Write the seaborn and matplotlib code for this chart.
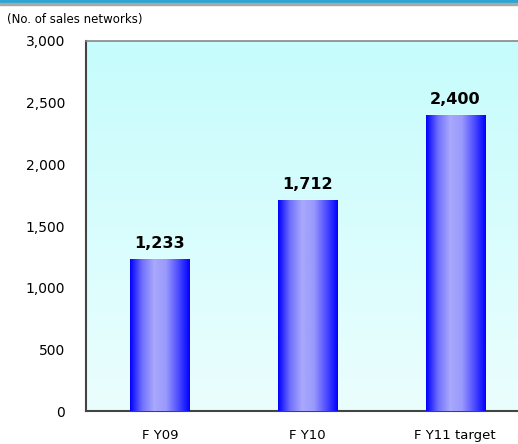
import numpy as np
import pandas as pd
import seaborn as sns
import matplotlib.pyplot as plt
from matplotlib.colors import LinearSegmentedColormap

categories = ['F Y09', 'F Y10', 'F Y11 target']
values = [1233, 1712, 2400]
value_labels = ['1,233', '1,712', '2,400']
y_ticks = [0, 500, 1000, 1500, 2000, 2500, 3000]
y_tick_labels = ['0', '500', '1,000', '1,500', '2,000', '2,500', '3,000']

df = pd.DataFrame({'period': categories, 'networks': values})

sns.set_style('white')
plt.rcParams['font.family'] = ['DejaVu Sans']
plt.rcParams['text.color'] = 'black'
plt.rcParams['xtick.color'] = 'black'
plt.rcParams['ytick.color'] = 'black'

fig = plt.figure(figsize=(5.18, 4.44), dpi=100)
ax = fig.add_axes([86 / 518, 33 / 444, 1 - 86 / 518, (411 - 41) / 444])

sns.barplot(data=df, x='period', y='networks', width=0.4, color='#3030ff',
            ax=ax, zorder=2)

ax.set_xlim(-0.5, 2.426)
ax.set_ylim(0, 3000)

# background gradient (light cyan top -> near white bottom)
bg = LinearSegmentedColormap.from_list('bg', ['#ebfefe', '#c6fcfc'])
ax.imshow(np.linspace(0, 1, 256).reshape(-1, 1), cmap=bg, origin='lower',
          extent=[0, 1, 0, 1], transform=ax.transAxes, aspect='auto', zorder=0)

# horizontal gradient inside each bar
bar_cmap = LinearSegmentedColormap.from_list(
    'bar', ['#0000ff', '#6f6ffd', '#a8a8fc', '#9a9afc', '#5050ff', '#0000ff'])
grad = np.linspace(0, 1, 256).reshape(1, -1)
for p in ax.patches:
    x0, w, h = p.get_x(), p.get_width(), p.get_height()
    im = ax.imshow(grad, cmap=bar_cmap, extent=[x0, x0 + w, 0, h],
                   aspect='auto', zorder=3)
    im.set_clip_path(p)

for p, lab in zip(ax.patches, value_labels):
    ax.annotate(lab, (p.get_x() + p.get_width() / 2, p.get_height()),
                xytext=(0, 6), textcoords='offset points',
                ha='center', va='bottom', fontsize=11.5, fontweight='bold',
                zorder=4)

ax.set_yticks(y_ticks)
ax.set_yticklabels(y_tick_labels, fontsize=10)
ax.set_xticks([0, 1, 2])
ax.set_xticklabels(categories, fontsize=9.5)
ax.set_xticks([0.5, 1.5], minor=True)
ax.tick_params(axis='x', which='major', length=0, pad=13)
ax.tick_params(axis='x', which='minor', length=4, direction='in', color='#555555')
ax.tick_params(axis='y', length=0, pad=15)
ax.set_xlabel('')
ax.set_ylabel('')

for s in ['left', 'bottom']:
    ax.spines[s].set_color('#444444')
    ax.spines[s].set_linewidth(1.5)
ax.spines['top'].set_color('#888888')
ax.spines['top'].set_linewidth(1.2)
ax.spines['right'].set_visible(False)

fig.text(7 / 518, 1 - 20 / 444, '(No. of sales networks)', fontsize=8.5,
         va='center', ha='left')

# header stripe at the very top
fig.patches.append(plt.Rectangle((0, 1 - 3 / 444), 1, 3 / 444,
                                 transform=fig.transFigure, color='#2aa6d6'))
fig.patches.append(plt.Rectangle((0, 1 - 5.5 / 444), 1, 2.5 / 444,
                                 transform=fig.transFigure, color='#a8a8a8'))

fig.savefig('out.png', dpi=100)
